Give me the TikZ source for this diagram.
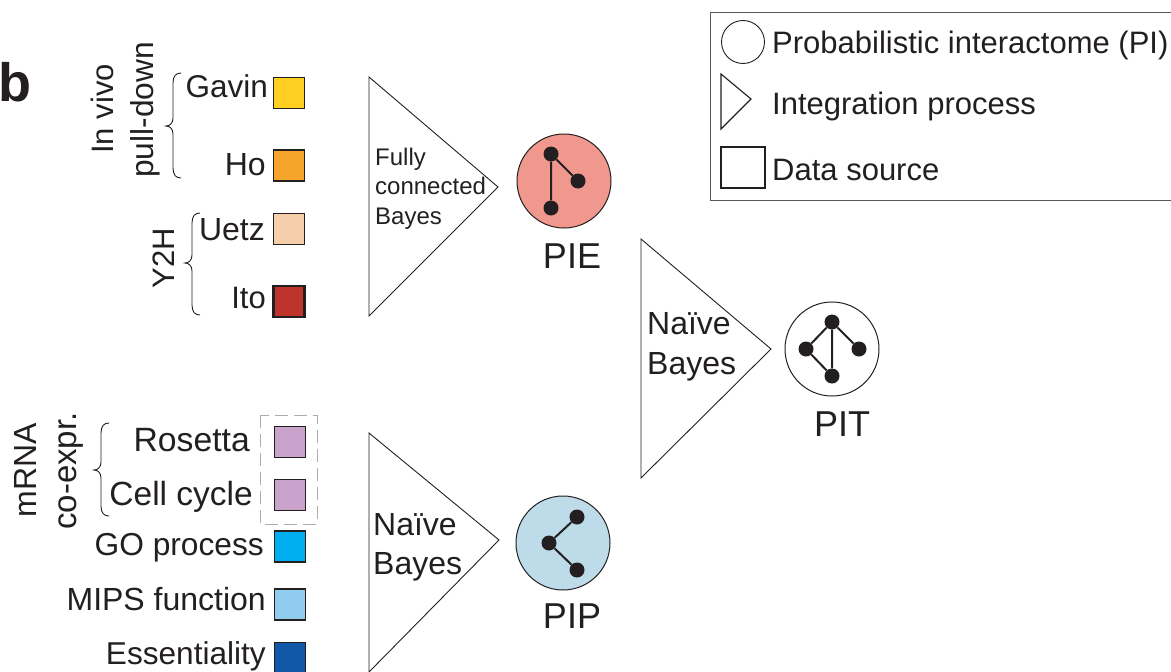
\documentclass[tikz,border=0pt]{standalone}
\usepackage{fontspec}
\setmainfont{Liberation Sans}
\definecolor{ink}{HTML}{231F20}
\newcommand{\bracepx}[4]{% x of spine, y top, y tip, y bottom
  \draw[bracestyle] (#1+8,#2) .. controls (#1+3,#2) and (#1,#2+3) .. (#1,#2+10)
    -- (#1,#3-8) .. controls (#1,#3-3) and (#1-3,#3) .. (#1-7,#3)
    .. controls (#1-3,#3) and (#1,#3+3) .. (#1,#3+8)
    -- (#1,#4-10) .. controls (#1,#4-3) and (#1+3,#4) .. (#1+8,#4);}
\tikzset{
  lbl/.style={font=\fontsize{#1}{36}\selectfont,text=ink,inner sep=0pt},
  lbl/.default=31.7,
  src/.style={draw=ink,line width=1.9pt,inner sep=0pt,minimum width=31pt,minimum height=31pt},
  tri/.style={draw=ink,line width=0.9pt,line join=miter},
  pi/.style={circle,draw=ink,line width=1pt,inner sep=0pt,minimum size=94pt},
  dot/.style={circle,fill=ink,inner sep=0pt,minimum size=15pt},
  edge/.style={draw=ink,line width=2pt},
  bracestyle/.style={draw=ink,line width=0.9pt},
}
\begin{document}
\begin{tikzpicture}[x=1pt,y=-1pt]
\useasboundingbox (0,0) rectangle (1171,672);
\clip (0,0) rectangle (1171,672);
\node[font=\fontsize{54}{60}\selectfont\bfseries,text=ink,inner sep=0pt,anchor=base west] (panel) at (-2,101) {b};

% data sources
\node[src,fill={rgb,255:red,255;green,207;blue,33}] (gavinbox) at (289,93) {};
\node[src,fill={rgb,255:red,245;green,165;blue,42}] (hobox) at (289,165.5) {};
\node[src,fill={rgb,255:red,246;green,207;blue,170}] (uetzbox) at (289,229) {};
\node[src,fill={rgb,255:red,190;green,51;blue,44},line width=2.4pt] (itobox) at (289,301.5) {};
\node[src,fill={rgb,255:red,201;green,163;blue,203}] (rosbox) at (290,442) {};
\node[src,fill={rgb,255:red,201;green,163;blue,203}] (cellbox) at (290,495) {};
\node[src,fill={rgb,255:red,0;green,174;blue,239}] (gobox) at (290,546.5) {};
\node[src,fill={rgb,255:red,145;green,203;blue,238}] (mipsbox) at (290,604.5) {};
\node[src,fill={rgb,255:red,17;green,89;blue,168}] (essbox) at (290,658) {};
\draw[gray!65,line width=1pt,dash pattern=on 13pt off 6pt] (260,415) rectangle (317,524);

% data source labels
\node[lbl=31.5,anchor=base east] (gavin) at (268,97) {Gavin};
\node[lbl=32,anchor=base east] (ho) at (266,175) {Ho};
\node[lbl=32,anchor=base east] (uetz) at (265,240) {Uetz};
\node[lbl=31,anchor=base east] (ito) at (266,308) {Ito};
\node[lbl=33.7,anchor=base east] (rosetta) at (250,451) {Rosetta};
\node[lbl=33.5,anchor=base east] (cell) at (253,505) {Cell cycle};
\node[lbl=31.7,anchor=base east] (go) at (264,555) {GO process};
\node[lbl=32,anchor=base east] (mips) at (266,610) {MIPS function};
\node[lbl=31.6,anchor=base east] (ess) at (266,664) {Essentiality};

% group labels
\node[lbl=31,rotate=90,anchor=base] (invivo) at (113,109) {In vivo};
\node[lbl=31.7,rotate=90,anchor=base] (pull) at (153,110) {pull-down};
\node[lbl=31,rotate=90,anchor=base] (y2h) at (174,258) {Y2H};
\node[lbl=32,rotate=90,anchor=base] (mrna) at (36,470) {mRNA};
\node[lbl=33,rotate=90,anchor=base] (coexpr) at (76,471) {co-expr.};
\bracepx{173}{73}{126}{178}
\bracepx{192}{213}{263}{315}
\bracepx{101}{423}{470}{516}

% integration triangles
\draw[tri] (369,77) -- (369,316) -- (498,187) -- cycle;
\draw[tri] (369,433) -- (369,672) -- (499,540) -- cycle;
\draw[tri] (641,239) -- (641,478) -- (771,349) -- cycle;
\node[lbl=24,anchor=base west] (fc1) at (375,165) {Fully};
\node[lbl=24,anchor=base west] (fc2) at (375,194) {connected};
\node[lbl=24,anchor=base west] (fc3) at (375,224) {Bayes};
\node[lbl=32,anchor=base west] (nb1) at (373,535) {Naïve};
\node[lbl=32,anchor=base west] (nb2) at (373,574) {Bayes};
\node[lbl=32,anchor=base west] (nb3) at (647,334) {Naïve};
\node[lbl=32,anchor=base west] (nb4) at (647,374) {Bayes};

% PIE
\node[pi,fill={rgb,255:red,240;green,152;blue,142}] (pie) at (564,181) {};
\node[dot] (pie1) at (551,154) {};
\node[dot] (pie2) at (578,181) {};
\node[dot] (pie3) at (551,208) {};
\draw[edge] (pie1) -- (pie2) (pie1) -- (pie3);
\node[lbl=36,anchor=base] (pielbl) at (572,268) {PIE};

% PIP
\node[pi,fill={rgb,255:red,189;green,219;blue,232}] (pip) at (563,543) {};
\node[dot] (pip1) at (577,517) {};
\node[dot] (pip2) at (549,543) {};
\node[dot] (pip3) at (577,570) {};
\draw[edge] (pip2) -- (pip1) (pip2) -- (pip3);
\node[lbl=36,anchor=base] (piplbl) at (572,628) {PIP};

% PIT
\node[pi,fill=white] (pit) at (832,349) {};
\node[dot] (pit1) at (832,322) {};
\node[dot] (pit2) at (806,349) {};
\node[dot] (pit3) at (859,349) {};
\node[dot] (pit4) at (832,376) {};
\draw[edge] (pit1) -- (pit2) (pit1) -- (pit3) (pit1) -- (pit4) (pit2) -- (pit4);
\node[lbl=36,anchor=base] (pitlbl) at (842,436) {PIT};

% legend
\draw[draw=ink!75,line width=0.9pt] (710,12) rectangle (1173,200);
\node[circle,draw=ink,line width=0.9pt,inner sep=0pt,minimum size=43pt] (legc) at (743,42) {};
\draw[tri,line width=1.1pt] (721,74) -- (721,129) -- (751,99) -- cycle;
\node[draw=ink,line width=1.1pt,inner sep=0pt,minimum width=44pt,minimum height=41pt] (legs) at (743,167.5) {};
\node[lbl=31,anchor=base west] (legt1) at (772,53) {Probabilistic interactome (PI)};
\node[lbl=31,anchor=base west] (legt2) at (772,114) {Integration process};
\node[lbl=31,anchor=base west] (legt3) at (772,180) {Data source};
\end{tikzpicture}
\end{document}
